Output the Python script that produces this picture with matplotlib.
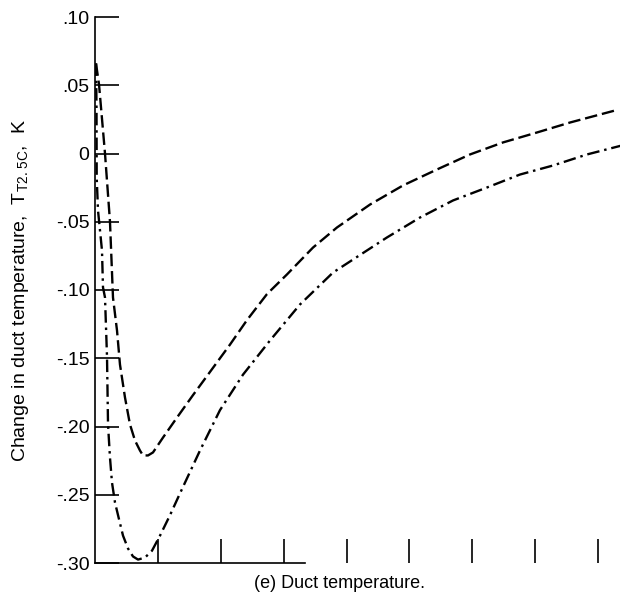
import numpy as np
import matplotlib
matplotlib.use('Agg')
import matplotlib.pyplot as plt
from matplotlib import font_manager

# Condensed face if available, otherwise plain sans
names = {f.name for f in font_manager.fontManager.ttflist}
face = 'Liberation Sans Narrow' if 'Liberation Sans Narrow' in names else 'Liberation Sans'
plt.rcParams['font.family'] = [face, 'DejaVu Sans']
plt.rcParams['mathtext.fontset'] = 'custom'
plt.rcParams['mathtext.rm'] = face
plt.rcParams['mathtext.it'] = face
plt.rcParams['lines.scale_dashes'] = False

# Dashed curve
x_dash = [0.016, 0.064, 0.159, 0.238, 0.286, 0.350, 0.397, 0.477, 0.556, 0.636,
          0.715, 0.763, 0.843, 0.922, 1.081, 1.304, 1.558, 1.876, 2.146, 2.417, 2.734,
          3.052, 3.466, 3.847, 4.372, 4.897, 5.437, 5.962, 6.486, 7.027, 7.552, 8.267]
y_dash = [0.0660, 0.0505, 0.0, -0.0498, -0.1055, -0.1297, -0.1546, -0.1788, -0.1985, -0.2103,
          -0.2176, -0.2212, -0.2212, -0.2190, -0.2081, -0.1934, -0.177, -0.157, -0.140, -0.122, -0.103,
          -0.0886, -0.0689, -0.0542, -0.0374, -0.0234, -0.0117, -0.0007, 0.0081, 0.0154, 0.0227, 0.0315]

# Dash-dot curve
x_dd = [0.016, 0.024, 0.027, 0.048, 0.111, 0.127, 0.159, 0.191, 0.207, 0.238,
        0.270, 0.318, 0.382, 0.445, 0.525, 0.604, 0.684, 0.795, 0.906, 1.033,
        1.192, 1.351, 1.669, 1.987, 2.353, 2.782, 3.259, 3.784, 4.642, 5.167,
        5.692, 6.232, 6.757, 7.281, 7.822, 8.378]
y_dd = [0.0660, 0.034, -0.0176, -0.0418, -0.071, -0.098, -0.1055, -0.149, -0.1985, -0.2227,
        -0.241, -0.2557, -0.268, -0.2799, -0.2894, -0.2952, -0.2975, -0.296, -0.291, -0.280,
        -0.265, -0.249, -0.2176, -0.188, -0.162, -0.137, -0.1106, -0.0872, -0.0615, -0.0469,
        -0.0344, -0.0249, -0.0154, -0.0088, -0.0007, 0.0059]

y_ticks = [0.10, 0.05, 0.0, -0.05, -0.10, -0.15, -0.20, -0.25, -0.30]
y_labels = ['.10', '.05', '0', '-.05', '-.10', '-.15', '-.20', '-.25', '-.30']
x_ticks = [1, 2, 3, 4, 5, 6, 7, 8]

fig = plt.figure(figsize=(6.26, 6.0), dpi=100)
ax = fig.add_axes([95 / 626, 37 / 600, 8.35 * 62.9 / 626, 546 / 600])

ax.plot(x_dash, y_dash, color='black', lw=1.7, dashes=(9, 3.5))
ax.plot(x_dd, y_dd, color='black', lw=1.7, dashes=(9, 3.5, 1.8, 3.5))

ax.set_xlim(0, 8.35)
ax.set_ylim(-0.30, 0.10)

for side in ['top', 'right']:
    ax.spines[side].set_visible(False)
ax.spines['left'].set_linewidth(1.2)
ax.spines['bottom'].set_linewidth(1.2)
ax.spines['bottom'].set_bounds(0, 3.34)

ax.set_yticks(y_ticks)
ax.set_yticklabels(y_labels, fontsize=14)
ax.set_xticks(x_ticks)
ax.set_xticklabels([])
ax.tick_params(axis='y', direction='in', length=17, width=1.2, pad=4)
ax.tick_params(axis='x', direction='in', length=17, width=1.2)

fig.text(0.032, 1 - 291 / 600, r'Change in duct temperature,  T$_{\mathrm{T2.\,5C}}$,  K',
         rotation=90, ha='center', va='center', fontsize=14)
fig.text(340 / 626, 1 - 583 / 600, '(e) Duct temperature.', ha='center', va='center', fontsize=13)

fig.savefig('out.png', dpi=100)
